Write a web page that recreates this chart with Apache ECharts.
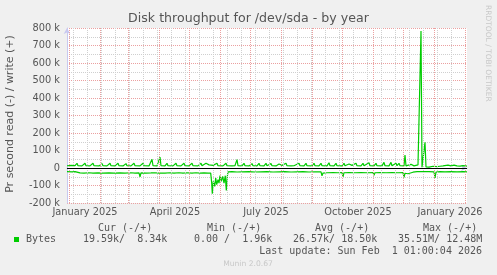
<!DOCTYPE html>
<html>
<head>
<meta charset="utf-8">
<script src="https://cdn.jsdelivr.net/npm/echarts@6/dist/echarts.min.js"></script>
<style>
html,body{margin:0;padding:0;background:#F0F0F0;}
#chart{width:497px;height:275px;}
</style>
</head>
<body>
<div id="chart"></div>
<script>
// ---- data (x = day index from 2024-12-30, values in k bytes/s) ----
const xLabelDays = [18, 108, 199, 291, 383];
const xLabels = ['January 2025', 'April 2025', 'July 2025', 'October 2025', 'January 2026'];
const monthStartDays = [2, 33, 61, 92, 122, 153, 183, 214, 245, 275, 306, 336, 367, 398];
const minorGridDays = [6, 20, 34, 48, 62, 76, 90, 104, 118, 132, 146, 160, 174, 188, 202, 216, 230, 244, 258, 272, 286, 300, 314, 328, 342, 356, 370, 384, 398];

const writeData = [
[0,13],[1,23],[2,13],[4,15],[6,12],[8,14],[10,27],[11,13],[13,15],[15,12],[18,27],[19,13],[21,15],[23,12],[26,27],[27,13],[29,15],[32,12],[35,25],[36,13],[38,15],[40,12],[43,27],[44,13],[46,15],[48,12],[51,27],[52,13],[54,15],[56,12],[59,25],[60,13],[62,15],[64,12],[67,27],[68,13],[70,15],[73,12],[76,27],[77,13],[79,15],[82,12],[85,50],[86,13],[88,15],[90,12],[91,22],[92,13],[93,62],[94,13],[96,15],[98,12],[100,27],[101,13],[103,15],[106,12],[109,27],[110,13],[112,15],[114,12],[117,27],[118,13],[120,15],[122,12],[125,27],[126,13],[128,15],[131,12],[134,27],[135,13],[137,15],[139,27],[140,16],[141,30],[142,18],[143,27],[144,13],[146,15],[148,12],[150,27],[151,13],[153,15],[156,12],[159,27],[160,13],[162,15],[165,12],[168,14],[170,48],[171,13],[173,15],[175,12],[177,27],[178,13],[180,15],[182,12],[185,25],[186,13],[188,15],[190,12],[192,27],[193,13],[195,15],[197,12],[199,27],[200,13],[202,15],[204,25],[205,13],[207,15],[209,12],[212,23],[213,13],[215,15],[217,12],[219,27],[220,13],[222,15],[224,12],[226,23],[227,13],[229,15],[232,27],[233,13],[235,15],[237,12],[239,27],[240,13],[242,15],[245,12],[247,27],[248,13],[250,15],[252,12],[254,27],[255,13],[257,15],[260,12],[262,30],[263,13],[265,15],[267,12],[269,27],[270,13],[272,15],[275,12],[277,27],[278,13],[280,12],[282,23],[283,13],[285,15],[287,12],[289,27],[290,13],[292,15],[294,12],[296,27],[297,13],[299,15],[302,30],[303,13],[305,15],[307,12],[309,27],[310,13],[312,15],[315,12],[317,32],[318,13],[320,15],[322,12],[324,32],[325,13],[327,12],[329,27],[330,13],[332,27],[333,13],[335,14],[337,12],[338,74],[339,12],[341,14],[344,21],[345,11],[347,12],[349,10],[351,18],[352,9],[353,8],[354,783],[355,5],[357,6],[358,147],[359,6],[362,5],[364,7],[366,10],[368,6],[370,8],[372,15],[373,10],[376,12],[378,10],[381,16],[382,10],[384,12],[387,16],[388,10],[390,12],[393,11],[396,14],[397,10],[400,11]
];

const readData = [
[0,-21],[5,-22],[8,-21],[9,-28],[10,-30],[13,-28],[17,-29],[22,-27],[26,-29],[31,-28],[36,-29],[42,-28],[47,-29],[53,-28],[58,-29],[64,-27],[68,-29],[72,-28],[73,-50],[74,-28],[79,-29],[84,-28],[88,-27],[92,-29],[93,-36],[94,-28],[98,-29],[103,-27],[107,-29],[112,-27],[116,-29],[120,-27],[125,-29],[129,-27],[133,-29],[137,-28],[141,-29],[143.7,-29],[144.7,-86],[145.3,-147],[146.3,-76],[147.7,-105],[148.7,-57],[149.7,-95],[151,-67],[152,-86],[153,-44],[154.3,-76],[155.7,-48],[157,-86],[158.3,-44],[159.3,-128],[160.3,-48],[161,-22],[165,-21],[170,-23],[175,-22],[182,-21],[188,-23],[194,-22],[200,-21],[206,-23],[212,-22],[218,-21],[224,-23],[230,-22],[236,-21],[242,-23],[248,-22],[254,-22],[255,-45],[256,-29],[260,-27],[266,-26],[271,-27],[275,-26],[276,-50],[277,-27],[282,-26],[288,-27],[294,-26],[300,-27],[306,-26],[307,-42],[308,-27],[313,-26],[319,-27],[325,-26],[331,-27],[336,-26],[337,-53],[338,-30],[339,-40],[340,-27],[341,-33],[342,-25],[346,-24],[350,-21],[356,-20],[362,-21],[367,-22],[368,-57],[369,-24],[373,-21],[378,-22],[384,-21],[390,-22],[396,-21],[400,-22]
];

const legendHeaders = ['Cur (-/+)', 'Min (-/+)', 'Avg (-/+)', 'Max (-/+)'];
const legendValues = ['19.59k/  8.34k', '0.00 /  1.96k', '26.57k/ 18.50k', '35.51M/ 12.48M'];
const seriesName = 'Bytes';
const lastUpdate = 'Last update: Sun Feb  1 01:00:04 2026';

// ---- layout ----
const SANS = '"DejaVu Sans", sans-serif';
const MONO = '"DejaVu Sans Mono", monospace';
const TXT = '#555555';
const GREEN = '#00CC00';
const headerX = [98, 207, 315, 423];
const valueX = [83, 194, 293, 398];
const PX_ALIGN = 0.5; // half-pixel alignment of vertical grid lines (1 day = 1 px)

const chart = echarts.init(document.getElementById('chart'), null, {renderer: 'canvas'});

const graphics = [
  {type: 'text', style: {text: 'Disk throughput for /dev/sda - by year', x: 248.5, y: 19, textAlign: 'center', textVerticalAlign: 'middle', font: '12.6px ' + SANS, fill: TXT}},
  {type: 'text', x: 10, y: 114, rotation: Math.PI / 2, style: {text: 'Pr second read (-) / write (+)', x: 0, y: 0, textAlign: 'center', textVerticalAlign: 'middle', font: '11px ' + SANS, fill: TXT}},
  {type: 'text', x: 488, y: 5, rotation: -Math.PI / 2, style: {text: 'RRDTOOL / TOBI OETIKER', x: 0, y: 0, textAlign: 'left', textVerticalAlign: 'middle', font: '7.5px ' + SANS, fill: '#C8C8C8'}},
  {type: 'rect', shape: {x: 14, y: 237, width: 5, height: 5}, style: {fill: GREEN}},
  {type: 'text', style: {text: seriesName, x: 26, y: 239.5, textVerticalAlign: 'middle', font: '10px ' + MONO, fill: TXT}},
  {type: 'text', style: {text: lastUpdate, x: 482, y: 251.7, textAlign: 'right', textVerticalAlign: 'middle', font: '10px ' + MONO, fill: TXT}},
  {type: 'text', style: {text: 'Munin 2.0.67', x: 248, y: 264, textAlign: 'center', textVerticalAlign: 'middle', font: '7.6px ' + SANS, fill: '#C8C8C8'}}
];
legendHeaders.forEach((h, i) => graphics.push({type: 'text', style: {text: h, x: headerX[i], y: 228, textVerticalAlign: 'middle', font: '10px ' + MONO, fill: TXT}}));
legendValues.forEach((v, i) => graphics.push({type: 'text', style: {text: v, x: valueX[i], y: 239.5, textVerticalAlign: 'middle', font: '10px ' + MONO, fill: TXT}}));

const vline = (d, color) => ({xAxis: d + PX_ALIGN, lineStyle: {color: color, type: [1, 1], width: 1}});

const option = {
  backgroundColor: '#F0F0F0',
  animation: false,
  grid: {left: 67, right: 30, top: 28, height: 175, show: true, backgroundColor: '#FFFFFF', borderWidth: 0},
  xAxis: {
    type: 'value', min: 0, max: 400,
    axisLine: {show: true, lineStyle: {color: '#C8C8F0', width: 1}, symbol: ['none', 'arrow'], symbolSize: [5, 6]},
    axisTick: {show: false},
    splitLine: {show: false},
    axisLabel: {
      customValues: xLabelDays,
      formatter: v => xLabels[xLabelDays.indexOf(v)] || '',
      color: TXT, fontFamily: SANS, fontSize: 9.8, margin: 4, hideOverlap: false
    }
  },
  yAxis: {
    type: 'value', min: -200, max: 800, interval: 100,
    axisLine: {show: true, lineStyle: {color: '#C8C8F0', width: 1}, symbol: ['none', 'arrow'], symbolSize: [5, 6]},
    axisTick: {show: false},
    axisLabel: {formatter: v => v === 0 ? '0' : v + ' k', color: TXT, fontFamily: SANS, fontSize: 9.8, margin: 7},
    splitLine: {show: true, lineStyle: {color: '#EBA0A0', type: [1, 1], width: 1}},
    minorTick: {show: false, splitNumber: 2},
    minorSplitLine: {show: true, lineStyle: {color: '#CFCFCF', type: [1, 1], width: 1}}
  },
  series: [
    {
      type: 'line', name: 'grid', data: [], silent: true, z: 1,
      markLine: {
        silent: true, symbol: 'none', label: {show: false}, animation: false,
        data: minorGridDays.map(d => vline(d, '#CFCFCF')).concat(monthStartDays.map(d => vline(d, '#EBA0A0')))
      }
    },
    {type: 'line', name: 'read', data: readData, symbol: 'none', lineStyle: {color: GREEN, width: 1.2}, z: 3},
    {type: 'line', name: 'write', data: writeData, symbol: 'none', lineStyle: {color: GREEN, width: 1.2}, z: 3},
    {
      type: 'line', name: 'zero', data: [], silent: true, z: 5,
      markLine: {silent: true, symbol: 'none', label: {show: false}, animation: false,
        data: [{yAxis: 0, lineStyle: {color: '#000000', type: 'solid', width: 1.2}}]}
    }
  ],
  graphic: graphics
};
chart.setOption(option);
</script>
</body>
</html>
